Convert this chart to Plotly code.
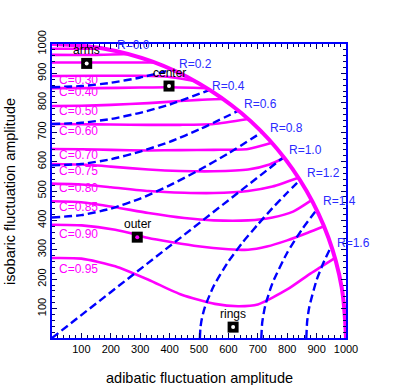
import plotly.graph_objects as go

# boundary circle (total amplitude = 1000)
circle_x = [0, 174, 342, 500, 643, 766, 866, 940, 985, 1000]
circle_y = [1000, 985, 940, 866, 766, 643, 500, 342, 174, 0]

# C curves (solid magenta)
c_labels = ['C=0.30', 'C=0.40', 'C=0.50', 'C=0.60', 'C=0.70', 'C=0.75', 'C=0.80', 'C=0.85', 'C=0.90', 'C=0.95']
c_label_y = [878, 837, 772, 704, 622, 568, 510, 446, 354, 235]
c_curves_x = [
    [0, 100, 180],
    [0, 150, 260],
    [0, 150, 250, 350],
    [0, 150, 300, 400, 486],
    [0, 150, 300, 400, 527],
    [0, 100, 200, 328, 436, 500, 583],
    [0, 100, 200, 328, 436, 550, 667],
    [0, 100, 200, 328, 436, 550, 667, 748],
    [0, 100, 200, 328, 436, 550, 667, 740, 790],
    [0, 100, 200, 328, 450, 550, 667, 750, 838],
    [0, 100, 215, 328, 450, 550, 667, 750, 820, 883],
    [0, 101, 215, 291, 328, 497, 600, 667, 731, 800, 870, 925],
    [0, 100, 215, 328, 441, 554, 633, 700, 800, 880, 962],
]
c_curves_y = [
    [984, 984, 984],
    [963, 963, 966],
    [937, 937, 937, 937],
    [891, 892, 892, 888, 874],
    [850, 850, 852, 853, 850],
    [789, 790, 793, 799, 806, 810, 813],
    [728, 727, 726, 725, 725, 728, 745],
    [643, 642, 640, 638, 639, 640, 643, 664],
    [592, 590, 583, 573, 568, 567, 573, 590, 613],
    [525, 522, 513, 500, 494, 493, 500, 515, 545],
    [465, 462, 445, 425, 408, 400, 400, 410, 430, 469],
    [385, 383, 368, 350, 340, 312, 302, 300, 311, 332, 358, 380],
    [272, 270, 244, 198, 147, 116, 108, 114, 165, 220, 272],
]

# R curves (dashed blue)
r_labels = ['R=0.0', 'R=0.2', 'R=0.4', 'R=0.6', 'R=0.8', 'R=1.0', 'R=1.2', 'R=1.4', 'R=1.6']
r_label_x = [215, 424, 537, 646, 736, 801, 861, 916, 963]
r_label_y = [997, 933, 858, 796, 715, 639, 562, 465, 322]
r_curves_x = [
    [0, 100, 200, 300, 409],
    [0, 100, 200, 300, 400, 537],
    [0, 100, 200, 300, 400, 500, 634],
    [0, 100, 200, 300, 400, 500, 600, 714],
    [0, 788],
    [503, 505, 510, 520, 550, 600, 650, 700, 750, 800, 843],
    [712, 715, 725, 750, 800, 850, 900],
    [865, 868, 875, 900, 925, 950],
]
r_curves_y = [
    [853, 857, 868, 886, 913],
    [728, 732, 745, 766, 794, 844],
    [587, 592, 608, 634, 667, 709, 773],
    [410, 418, 440, 474, 519, 571, 628, 700],
    [0, 615],
    [0, 36, 67, 105, 177, 260, 327, 386, 442, 494, 537],
    [0, 52, 109, 187, 290, 369, 436],
    [0, 57, 105, 197, 260, 312],
]

# regions
reg_names = ['arms', 'center', 'outer', 'rings']
reg_x = [118, 398, 290, 616]
reg_y = [934, 857, 343, 37]
reg_dot = ['white', 'white', '#ff00ff', 'white']

FONT = 'Liberation Sans, Arial, sans-serif'
MAG = '#ff00ff'
BLUE = '#0000ff'

fig = go.Figure()

for cx, cy in zip(c_curves_x, c_curves_y):
    fig.add_trace(go.Scatter(x=cx, y=cy, mode='lines', line=dict(color=MAG, width=2.6, shape='spline', smoothing=0.6),
                             hoverinfo='skip'))

for rx, ry in zip(r_curves_x, r_curves_y):
    fig.add_trace(go.Scatter(x=rx, y=ry, mode='lines', line=dict(color=BLUE, width=2.4, dash='8px,4px', shape='spline', smoothing=0.6),
                             hoverinfo='skip'))

fig.add_trace(go.Scatter(x=circle_x, y=circle_y, mode='lines', line=dict(color=MAG, width=4, shape='spline'),
                         hoverinfo='skip'))

fig.add_trace(go.Scatter(x=reg_x, y=reg_y, mode='markers',
                         marker=dict(symbol='square', size=11, color='black', line=dict(width=0))))
fig.add_trace(go.Scatter(x=reg_x, y=reg_y, mode='markers',
                         marker=dict(symbol='circle', size=4, color=reg_dot, line=dict(width=0))))

for name, x, y in zip(reg_names, reg_x, reg_y):
    fig.add_annotation(x=x, y=y, text=name, showarrow=False, yshift=13,
                       font=dict(family=FONT, size=12, color='black'))

for lab, y in zip(c_labels, c_label_y):
    fig.add_annotation(x=18, y=y, text=lab, showarrow=False, xanchor='left',
                       font=dict(family=FONT, size=12, color=MAG))

for lab, x, y in zip(r_labels, r_label_x, r_label_y):
    fig.add_annotation(x=x, y=y, text=lab, showarrow=False, xanchor='left',
                       font=dict(family=FONT, size=12, color='#2b2bff'))

# axis titles
fig.add_annotation(x=0.5, y=-0.136, xref='paper', yref='paper', text='adibatic fluctuation amplitude',
                   showarrow=False, yanchor='middle', font=dict(family=FONT, size=14.5, color='black'))
fig.add_annotation(x=-0.143, y=0.5, xref='paper', yref='paper', text='isobaric fluctuation amplitude',
                   showarrow=False, textangle=-90, xanchor='center', yanchor='middle',
                   font=dict(family=FONT, size=14.5, color='black'))

axis_style = dict(range=[0, 1000], tickvals=list(range(100, 1001, 100)), ticks='inside', ticklen=5,
                  tickcolor='#000060', showline=True, linecolor=BLUE, linewidth=1.5, mirror='ticks',
                  showgrid=False, zeroline=False, automargin=False,
                  tickfont=dict(family=FONT, size=11, color='black'),
                  minor=dict(dtick=20, ticks='inside', ticklen=3, tickcolor='#000060', showgrid=False))

fig.update_xaxes(**axis_style)
fig.update_yaxes(**axis_style)
fig.update_layout(yaxis_tickangle=-90)

fig.update_layout(width=399, height=385, margin=dict(l=52, r=53, t=44, b=47),
                  plot_bgcolor='white', paper_bgcolor='white', showlegend=False)

# drop the page's default body margin so the figure sits at the window corner
fig.write_html("out.html", config={'displayModeBar': False},
               post_script="document.body.style.margin='0';document.body.style.overflow='hidden';")
